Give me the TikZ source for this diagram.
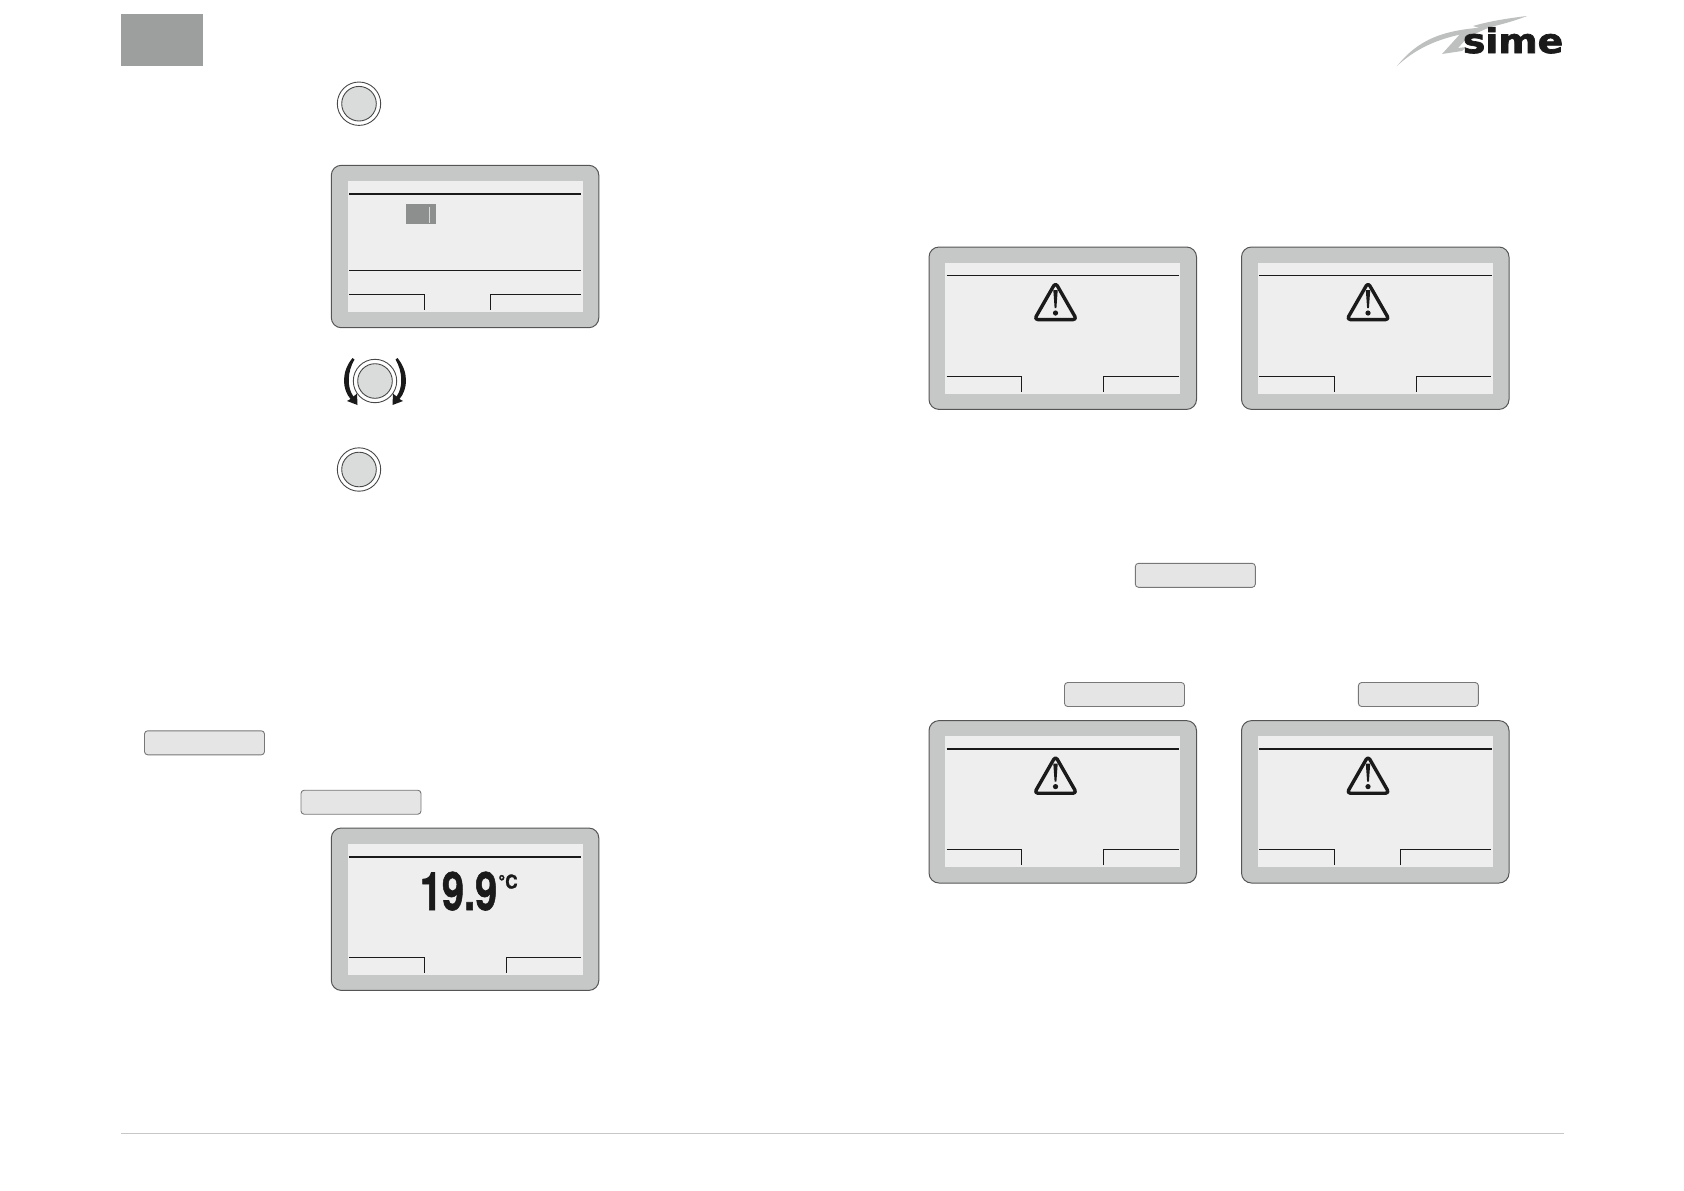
\documentclass[tikz,border=0pt]{standalone}
\usepackage{fontspec}
\usepackage{xcolor}
\usepackage{tikz}
\usetikzlibrary{positioning,calc}
\newfontfamily\dispfont[FakeBold=1.2]{TeX Gyre Heros Bold}
\newfontfamily\logofont[FakeBold=2]{DejaVu Sans Bold}
\definecolor{cTab}{RGB}{157,158,158}
\definecolor{cCase}{RGB}{198,200,200}
\definecolor{cScreen}{RGB}{238,238,238}
\definecolor{cKnob}{RGB}{217,220,219}
\definecolor{cPill}{RGB}{229,229,230}
\definecolor{cEdge}{RGB}{85,85,85}
\definecolor{cSwoosh}{RGB}{190,192,192}
\definecolor{cMark}{RGB}{26,26,26}

\begin{document}
\begin{tikzpicture}[
   x=0.5pt,y=-0.5pt,
   casebox/.style={draw=cEdge,fill=cCase,rounded corners=5pt,line width=.5pt,minimum width=133.75pt,minimum height=81.2pt,inner sep=0pt,outer sep=0pt,anchor=north west},
   screenbox/.style={fill=cScreen,minimum width=117.5pt,minimum height=65.5pt,inner sep=0pt,outer sep=0pt,anchor=north west},
   pillbox/.style={draw=cEdge!80,fill=cPill,rounded corners=1.6pt,line width=.45pt,minimum width=60pt,minimum height=12pt,inner sep=0pt,outer sep=0pt},
   ring/.style={draw=cMark!80,circle,fill=white,minimum size=21.7pt,inner sep=0pt,line width=.45pt},
   knobcap/.style={draw=cMark!80,circle,fill=cKnob,minimum size=17.3pt,inner sep=0pt,line width=.45pt},
   hdthick/.style={line width=1.1pt,cMark},
   hdthin/.style={line width=.5pt,cMark},
   softline/.style={line width=.45pt,cMark}]
  \useasboundingbox (0,0) rectangle (1684,1190);
  % page furniture
  \node[fill=cTab,minimum width=41pt,minimum height=26pt,inner sep=0pt,outer sep=0pt,anchor=north west] (tab) at (121,14) {};
  \coordinate (ruleL) at (121,1133);
  \coordinate (ruleR) at (1564,1133);
  \draw[line width=.5pt,black!22] (ruleL)--(ruleR);
  % logo
  \fill[cSwoosh] (1397,66) .. controls (1418,40) and (1442,29) .. (1492,27) .. controls (1470,33) and (1462,34) .. (1454,36) .. controls (1430,42) and (1412,52) .. (1397,66) -- cycle;
  \fill[cSwoosh] (1473,26) .. controls (1490,21) and (1510,18) .. (1527,16) .. controls (1512,22) and (1495,26) .. (1482,29) -- cycle;
  \fill[cSwoosh] (1442,54) -- (1461,33) -- (1490,27) -- (1468,37) -- (1458,48) -- (1466,47) -- (1462,51) -- cycle;
  \node[anchor=base west,inner sep=0pt,text=cMark] (logo) at (1462.5,53)
     {\scalebox{1.11}[1]{\logofont\fontsize{17}{17}\selectfont sime}};
  % push knobs
  \foreach \n/\x/\y in {a/359/103.7,b/375/381,c/359/469.5}{
    \node[ring] (ring\n) at (\x,\y) {};
    \node[knobcap] (cap\n) at (\x,\y) {};
  }
  % turning arrows
  \fill[cMark] (352.5,358) .. controls (341,372) and (342,389) .. (350.5,399) -- (347,401) -- (357.5,405) -- (357,393.5) -- (353.5,396.5) .. controls (347,388) and (347,372) .. (354.5,359.5) -- cycle;
  \fill[cMark] (397.5,358) .. controls (409,372) and (408,389) .. (399.5,399) -- (403,401) -- (392.5,405) -- (393,393.5) -- (396.5,396.5) .. controls (403,388) and (403,372) .. (395.5,359.5) -- cycle;
  % displays
  \foreach \n/\x/\y/\r/\t in {a/331.3/165.3/158.7/hdthick,b/929/247/174.5/hdthin,c/1241.5/247/174.5/hdthin,
                              d/331.3/828/175/hdthick,e/929/720.6/174.5/hdthick,f/1241.5/720.6/159/hdthick}{
    \begin{scope}[shift={(\x,\y)}]
      \node[casebox] (case\n) at (0,0) {};
      \node[screenbox] (screen\n) at (16.2,15.7) {};
      \draw[\t] (17.7,28.6)--(250,28.6);
      \draw[softline] (17.7,129)--(92.7,129)--(92.7,144.5);
      \draw[softline] (\r,144.5)--(\r,129)--(249.7,129);
    \end{scope}
  }
  \coordinate (menuL) at (349,270.3);
  \coordinate (menuR) at (581,270.3);
  \draw[softline] (menuL)--(menuR);
  % warning signs
  \foreach \n/\x/\y in {b/929/247,c/1241.5/247,e/929/720.6,f/1241.5/720.6}{
    \begin{scope}[shift={(\x,\y)}]
      \draw[line width=1.7pt,cMark,line join=round,rounded corners=1.8pt] (126.5,35.6)--(147.7,72.6)--(105.3,72.6)--cycle;
      \fill[cMark] (124.3,43) -- (128.7,43) -- (127.4,61) -- (125.6,61) -- cycle;
      \fill[cMark] (126.5,66) circle[radius=2.6];
    \end{scope}
  }
  % cursor on first display
  \node[fill=cTab!90!black,minimum width=14.85pt,minimum height=9.7pt,inner sep=0pt,outer sep=0pt,anchor=north west] (cursor) at (406.3,204.3) {};
  \coordinate (curT) at (429.3,207);
  \coordinate (curB) at (429.3,223);
  \draw[line width=.3pt,black!15] (curT)--(curB);
  % reading on last left display
  \node[anchor=base west,inner sep=0pt,text=cMark] (reading) at (419.5,910)
     {\scalebox{.75}[1]{\dispfont\fontsize{26.5}{26.5}\selectfont 19.9}};
  \node[anchor=base west,inner sep=0pt,text=cMark] (unit) at (498,888.5)
     {\scalebox{.9}[1]{\dispfont\fontsize{9.5}{9.5}\selectfont °C}};
  % soft keys printed in the text
  \node[pillbox] (pilla) at (204.5,742.8) {};
  \node[pillbox] (pillb) at (361,802.2) {};
  \node[pillbox] (pillc) at (1195.3,575.3) {};
  \node[pillbox] (pilld) at (1124.5,694.5) {};
  \node[pillbox] (pille) at (1418.4,694.5) {};
\end{tikzpicture}
\end{document}
